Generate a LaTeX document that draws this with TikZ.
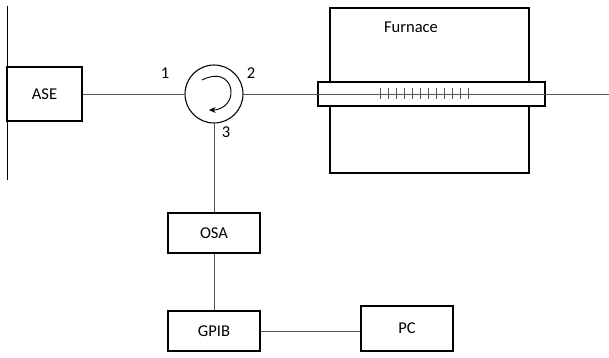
\documentclass[tikz,border=0pt]{standalone}
\usepackage{fontspec}
\setmainfont{Carlito}
\usetikzlibrary{arrows.meta,positioning}
\definecolor{fibre}{HTML}{555555}

\begin{document}
\begin{tikzpicture}[x=0.75pt, y=-0.75pt, font=\fontsize{12.4}{14}\selectfont]
  \tikzset{
    unitbox/.style={draw=black, line width=1.3pt, fill=white, minimum width=69pt, minimum height=30pt, inner sep=0pt},
    fibreline/.style={draw=fibre, line width=0.7pt},
  }
  \useasboundingbox (0,0) rectangle (609,357);
  % furnace and tube
  \node[draw=black, line width=1.3pt, minimum width=149pt, minimum height=124pt, inner sep=0pt] (furnace) at (429.5,90.5) {};
  \node[anchor=center] (furnacetxt) at (411,27) {Furnace};
  \node[draw=black, line width=1.3pt, fill=white, minimum width=170pt, minimum height=18pt, inner sep=0pt] (tube) at (431.5,94) {};
  % source side
  \coordinate (wallt) at (7,6);
  \coordinate (wallb) at (7,180);
  \draw[black, line width=0.7pt] (wallt) -- (wallb);
  \node[unitbox, minimum width=56pt, minimum height=40pt] (ase) at (44.5,94) {ASE};
  \node[draw=black, line width=0.8pt, circle, minimum size=43.5pt, inner sep=0pt] (circ) at (214,94) {};
  \node (p1) at (165,73) {1};
  \node (p2) at (251,73) {2};
  \node (p3) at (226,132) {3};
  \coordinate (arcs) at (202,80);
  \coordinate (arce) at (209,110);
  \draw[-{Stealth[length=5pt,width=4.5pt]}, line width=0.7pt] (arcs) .. controls (222,70) and (232,82) .. (231,94) .. controls (230,104) and (221,110) .. (arce);
  % instruments
  \node[unitbox] (osa) at (214,233) {OSA};
  \node[unitbox] (gpib) at (214,331) {GPIB};
  \node[unitbox, minimum height=34pt] (pc) at (407,328.5) {PC};
  \coordinate (fibreend) at (609,94);
  % fibre
  \draw[fibreline] (ase) -- (circ);
  \draw[fibreline] (circ) -- (fibreend);
  \draw[fibreline] (circ) -- (osa);
  \draw[fibreline] (osa) -- (gpib);
  \draw[fibreline] (gpib.east) -- (gpib.east -| pc.west);
  % grating
  \foreach \i in {0,...,11}
    \draw[fibreline] (380+\i*8,88) -- (380+\i*8,99);
\end{tikzpicture}
\end{document}
